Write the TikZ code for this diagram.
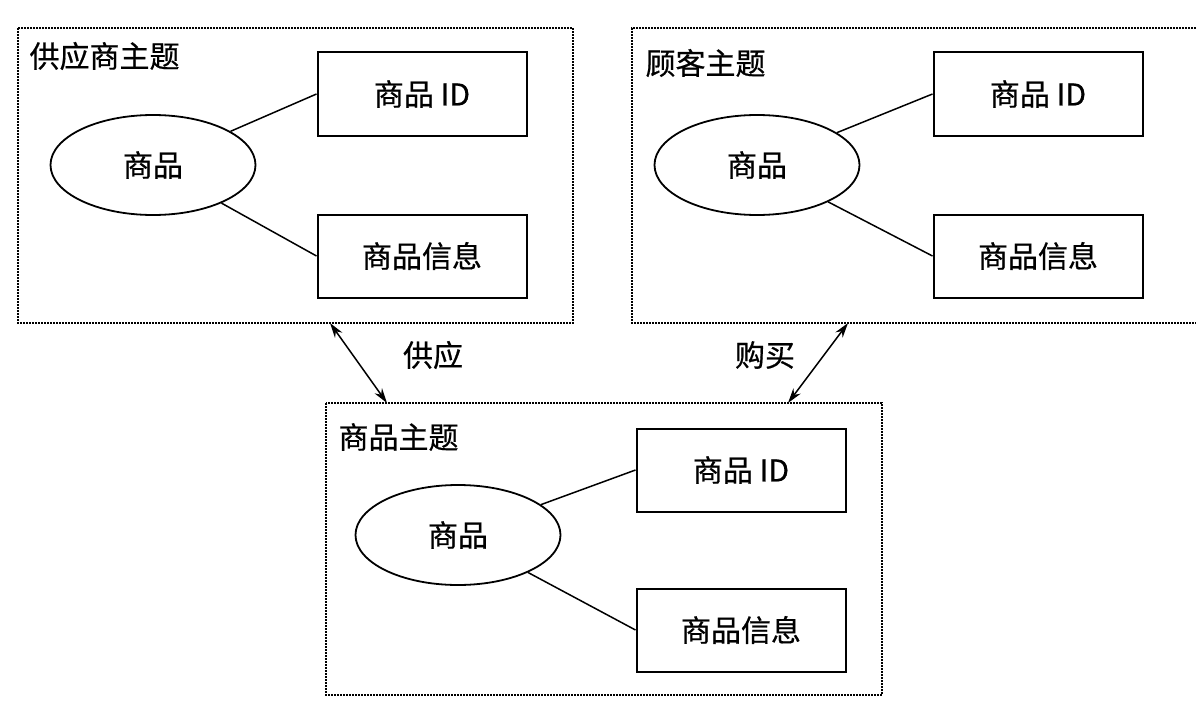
\documentclass[tikz,border=0pt]{standalone}
\usepackage{fontspec}
\setmainfont{Noto Sans CJK SC}[FakeBold=0.6]
\usetikzlibrary{arrows.meta,shapes.geometric}

\tikzset{
	theme/.style={densely dotted, line width=2pt},
	ent/.style={draw, ellipse, line width=1.8pt, minimum width=205, minimum height=100, inner sep=0},
	attr/.style={draw, rectangle, line width=2pt, minimum width=209, minimum height=83, inner sep=0},
	link/.style={line width=1.5pt}
}

\begin{document}
\begin{tikzpicture}[x=1pt, y=-1pt, >={Stealth[length=15pt,width=9pt]}, font=\fontsize{30}{34}\selectfont]
		\useasboundingbox (0,0) rectangle (1196,701);
		% theme areas
		\draw[theme] (18,28) rectangle (573,323);
		\draw[theme] (1196,28) -- (632,28) -- (632,323) -- (1196,323);
		\draw[theme] (326,403) rectangle (882,695);
		\node[anchor=west] (tS) at (26,56) {供应商主题};
		\node[anchor=west] (tC) at (642,63) {顾客主题};
		\node[anchor=west] (tG) at (335,437) {商品主题};
		% supplier
		\node[ent] (sE) at (153,165) {商品};
		\node[attr] (sID) at (422,94) {商品 ID};
		\node[attr] (sInfo) at (422,256) {商品信息};
		\draw[link] (sE) -- (sID.west);
		\draw[link] (sE) -- (sInfo.west);
		% customer
		\node[ent] (cE) at (757,165) {商品};
		\node[attr] (cID) at (1038,94) {商品 ID};
		\node[attr] (cInfo) at (1038,256) {商品信息};
		\draw[link] (cE) -- (cID.west);
		\draw[link] (cE) -- (cInfo.west);
		% goods
		\node[ent] (gE) at (458,535) {商品};
		\node[attr] (gID) at (741,470) {商品 ID};
		\node[attr] (gInfo) at (741,630) {商品信息};
		\draw[link] (gE) -- (gID.west);
		\draw[link] (gE) -- (gInfo.west);
		% relations
		\coordinate (aS) at (330,323);
		\coordinate (bS) at (387,403);
		\coordinate (aC) at (848,323);
		\coordinate (bC) at (788,403);
		\draw[<->, line width=1.5pt] (aS) -- (bS);
		\draw[<->, line width=1.5pt] (aC) -- (bC);
		\node (rS) at (433,355) {供应};
		\node (rC) at (765,355) {购买};
	\end{tikzpicture}
\end{document}
